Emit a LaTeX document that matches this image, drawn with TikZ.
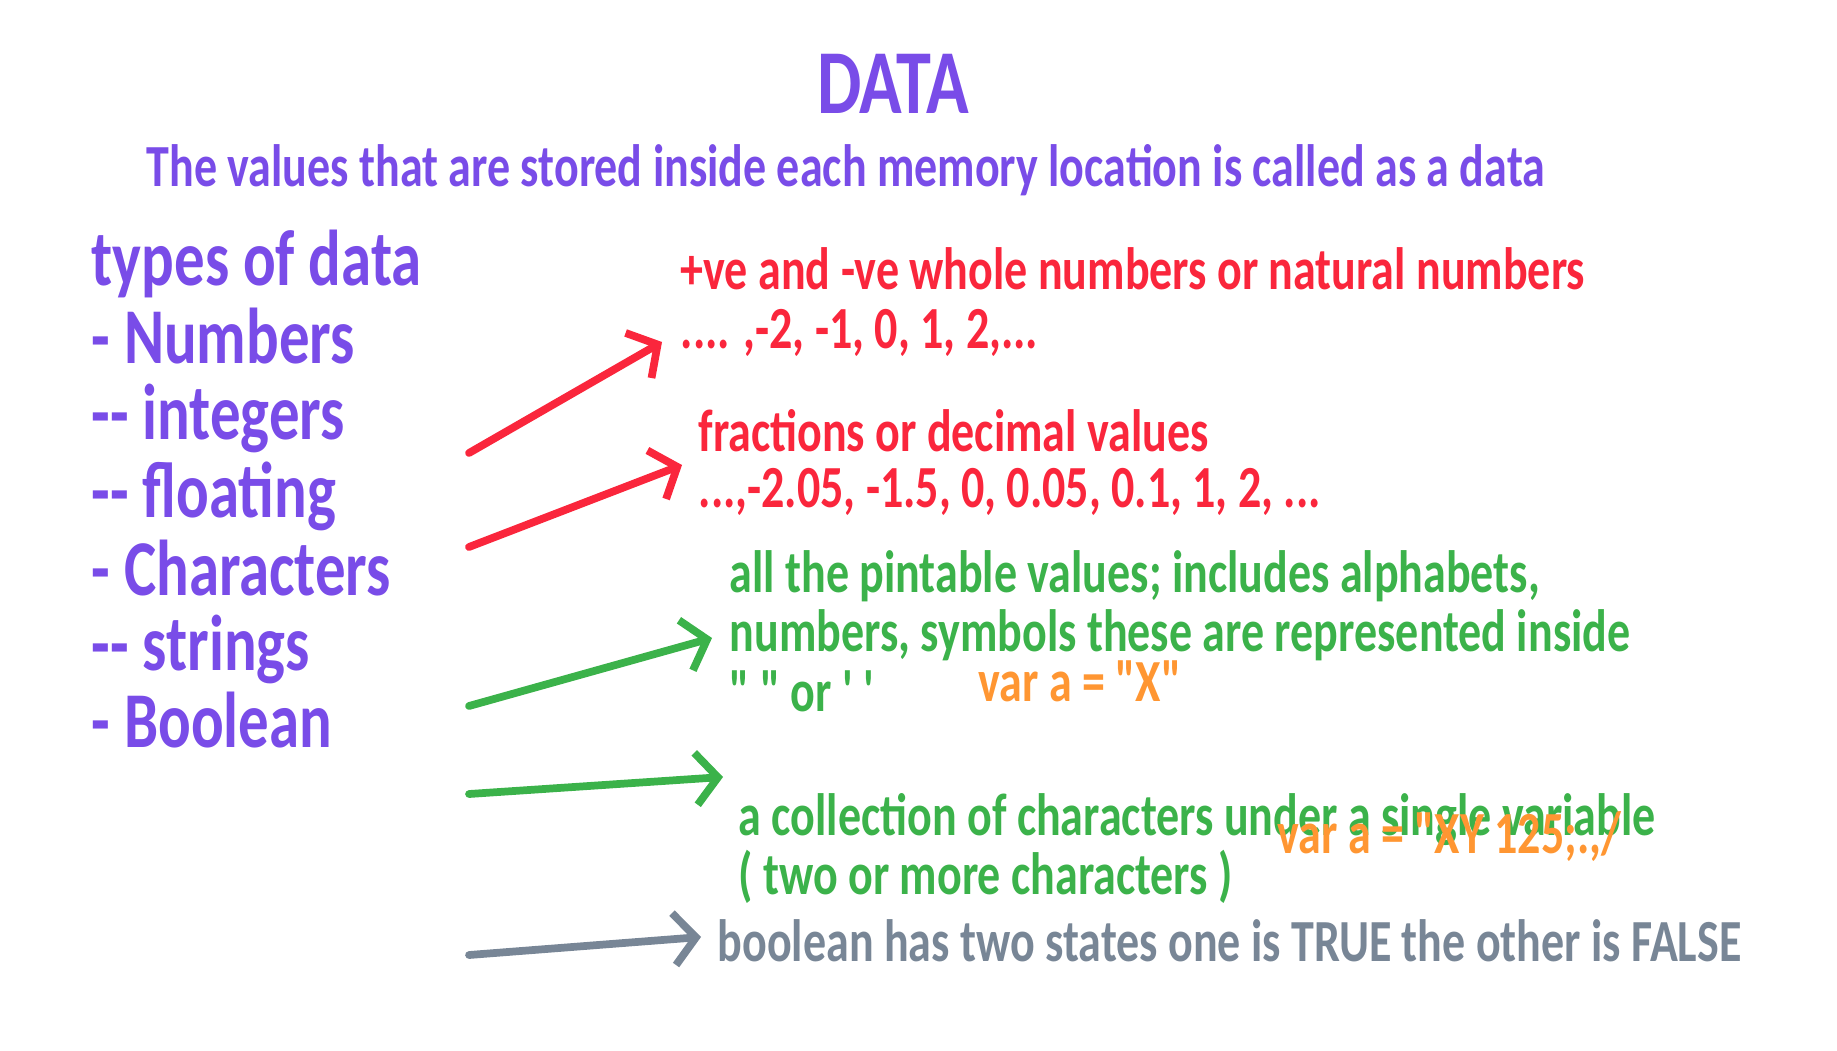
\documentclass[tikz,border=0pt]{standalone}
\usepackage{fontspec}
\setmainfont{Carlito}[FakeStretch=0.77,Ligatures=TeXOff]
\definecolor{dtpurple}{RGB}{121,76,232}
\definecolor{dtred}{RGB}{250,38,60}
\definecolor{dtgreen}{RGB}{59,178,74}
\definecolor{dtorange}{RGB}{255,150,50}
\definecolor{dtgray}{RGB}{120,134,150}
\usetikzlibrary{arrows.meta}

\begin{document}
\begin{tikzpicture}[
  datatitle/.style={anchor=base,inner sep=0pt,font=\fontsize{26}{30}\selectfont\bfseries,text=dtpurple},
  datalist/.style={anchor=base west,inner sep=0pt,font=\fontsize{22.5}{27}\selectfont\bfseries,text=dtpurple},
  datanote/.style={anchor=base west,inner sep=0pt,font=\fontsize{17}{20}\selectfont\bfseries},
  dataarr/.style={-{Straight Barb[length=2.2mm,width=5.2mm]},line width=2.2pt,line cap=round,line join=round}
]
  \useasboundingbox (0,0) rectangle (18.37,10.50);
  % Title
  \node[datatitle] (title) at (8.93,9.36) {DATA};
  \node[datanote,text=dtpurple] (intro) at (1.46,8.63) {The values that are stored inside each memory location is called as a data};
  % Types of data
  \node[datalist] (types) at (0.91,7.65) {types of data};
  \node[datalist] (numbers) at (0.91,6.87) {- Numbers};
  \node[datalist] (integers) at (0.91,6.11) {-- integers};
  \node[datalist] (floating) at (0.91,5.33) {-- floating};
  \node[datalist] (characters) at (0.91,4.55) {- Characters};
  \node[datalist] (strings) at (0.91,3.80) {-- strings};
  \node[datalist] (boolean) at (0.91,3.03) {- Boolean};
  % Integers
  \node[datanote,text=dtred] (intdef) at (6.80,7.61) {+ve and -ve whole numbers or natural numbers};
  \node[datanote,text=dtred] (intex) at (6.80,7.02) {.... ,-2, -1, 0, 1, 2,...};
  % Floating
  \node[datanote,text=dtred] (fltdef) at (6.98,5.99) {fractions or decimal values};
  \node[datanote,text=dtred] (fltex) at (6.98,5.43) {...,-2.05, -1.5, 0, 0.05, 0.1, 1, 2, ...};
  % Characters
  \node[datanote,text=dtgreen] (chrdef) at (7.29,4.58) {all the pintable values; includes alphabets,};
  \node[datanote,text=dtgreen] (chrdef2) at (7.29,3.99) {numbers, symbols these are represented inside};
  \node[datanote,text=dtgreen] (chrquote) at (7.29,3.39) {" " or ' '};
  \node[datanote,text=dtorange] (chrex) at (9.78,3.49) {var a = "X"};
  % Strings
  \node[datanote,text=dtgreen] (strdef) at (7.38,2.15) {a collection of characters under a single variable};
  \node[datanote,text=dtgreen] (strdef2) at (7.38,1.56) {( two or more characters )};
  \node[datanote,text=dtorange] (strex) at (12.77,1.97) {var a = "XY 125;.,/};
  % Boolean
  \node[datanote,text=dtgray] (booldef) at (7.17,0.89) {boolean has two states one is TRUE the other is FALSE};
  % Arrows
  \coordinate (intfrom) at (4.69,5.97);
  \coordinate (intto) at (6.62,7.08);
  \coordinate (fltfrom) at (4.69,5.03);
  \coordinate (fltto) at (6.82,5.85);
  \coordinate (chrfrom) at (4.69,3.44);
  \coordinate (chrto) at (7.12,4.12);
  \coordinate (strfrom) at (4.69,2.56);
  \coordinate (strto) at (7.23,2.73);
  \coordinate (boolfrom) at (4.69,0.95);
  \coordinate (boolto) at (7.01,1.13);
  \draw[dataarr,dtred] (intfrom) -- (intto);
  \draw[dataarr,dtred] (fltfrom) -- (fltto);
  \draw[dataarr,dtgreen] (chrfrom) -- (chrto);
  \draw[dataarr,dtgreen] (strfrom) -- (strto);
  \draw[dataarr,dtgray] (boolfrom) -- (boolto);
\end{tikzpicture}
\end{document}
